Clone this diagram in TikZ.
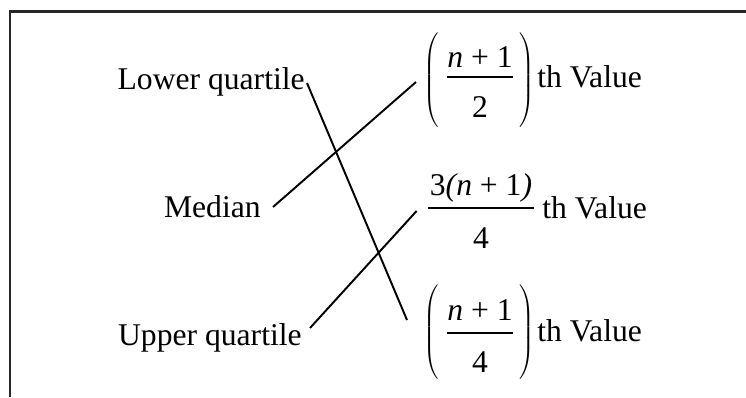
\documentclass[tikz,border=0pt]{standalone}
\usepackage{fontspec}
\setmainfont{Liberation Serif}
\newcommand{\openbig}{$\nulldelimiterspace=0pt\left(\vrule height 33pt depth 24pt width 0pt\right.$}
\newcommand{\closebig}{$\nulldelimiterspace=0pt\left.\vrule height 33pt depth 24pt width 0pt\right)$}
\tikzset{
	lbl/.style={inner sep=0pt, font=\fontsize{18}{22}\selectfont},
	link/.style={line width=1.1pt},
	bar/.style={line width=0.7pt},
}
\begin{document}
\begin{tikzpicture}[x=0.02cm, y=-0.02cm]
			\useasboundingbox (0,0) rectangle (746,397);
			\draw[line width=1.7pt, black!85] (746,11) -- (10,11) -- (10,397);
			% left column
			\node[lbl, anchor=base east] (lq) at (305,89) {Lower quartile};
			\node[lbl, anchor=base east] (med) at (261,217) {Median};
			\node[lbl, anchor=base east] (uq) at (302,345) {Upper quartile};
			% (n+1)/2
			\node[lbl, anchor=west] (p1l) at (423,80) {\openbig};
			\node[lbl, anchor=east] (p1r) at (535,80) {\closebig};
			\node[lbl, anchor=base] (num1) at (480,67) {\textit{n} + 1};
			\node[lbl, anchor=base] (den1) at (480,117) {2};
			\draw[bar] (447,77) -- (513,77);
			\node[lbl, anchor=base west] (th1) at (537,87) {th Value};
			% 3(n+1)/4
			\node[lbl, anchor=base] (num2) at (481,195) {3\textit{(n} + 1\textit{)}};
			\node[lbl, anchor=base] (den2) at (481,248) {4};
			\draw[bar] (428,208) -- (534,208);
			\node[lbl, anchor=base west] (th2) at (542,218) {th Value};
			% (n+1)/4
			\node[lbl, anchor=west] (p3l) at (423,332) {\openbig};
			\node[lbl, anchor=east] (p3r) at (535,332) {\closebig};
			\node[lbl, anchor=base] (num3) at (480,320) {\textit{n} + 1};
			\node[lbl, anchor=base] (den3) at (480,372) {4};
			\draw[bar] (447,333) -- (513,333);
			\node[lbl, anchor=base west] (th3) at (537,341) {th Value};
			% matching lines
			\draw[link] ([shift={(2,-6)}]lq.base east) -- ([shift={(-16,-12)}]p3l.west);
			\draw[link] ([shift={(12,-10)}]med.base east) -- ([shift={(-7,2)}]p1l.west);
			\draw[link] ([shift={(8,-17)}]uq.base east) -- ([shift={(-13,16)}]num2.base west);
\end{tikzpicture}
\end{document}
